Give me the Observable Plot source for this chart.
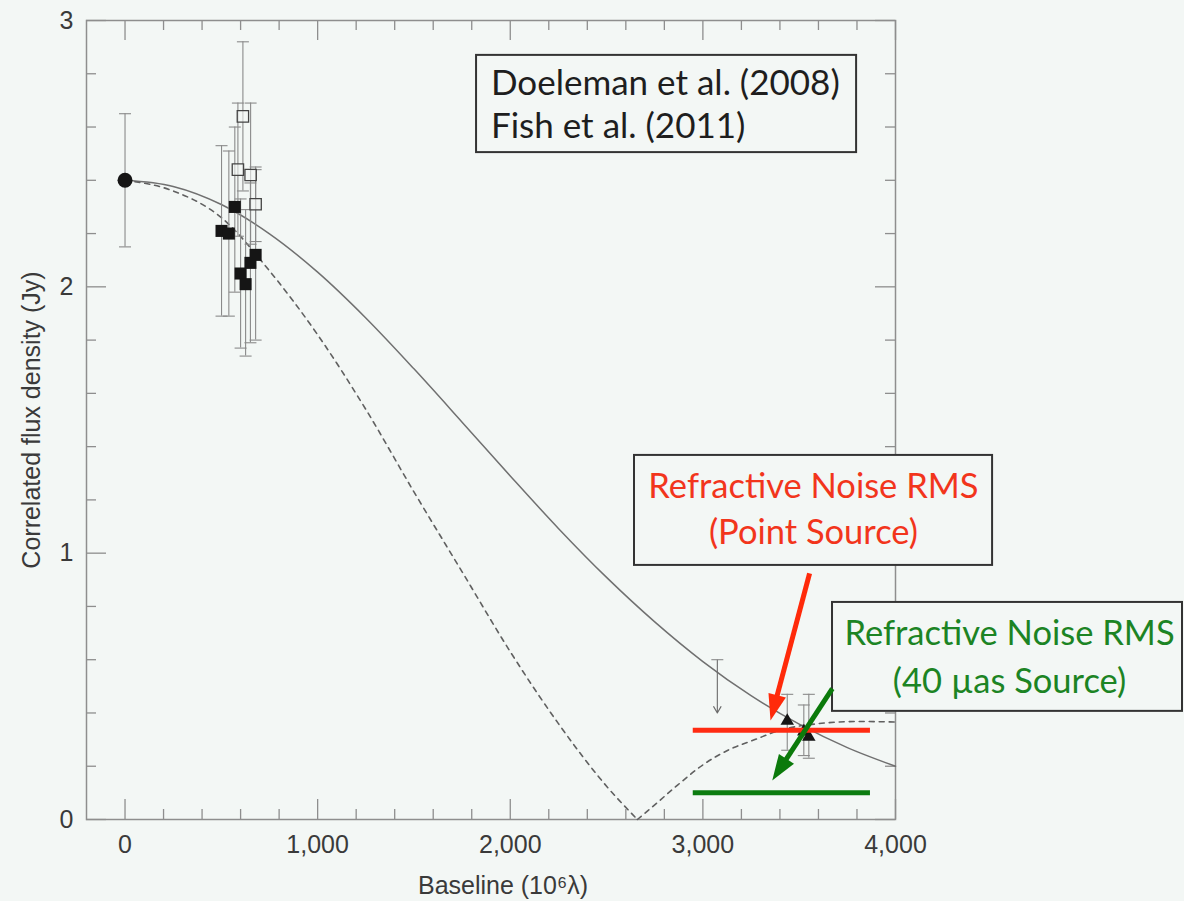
<!DOCTYPE html>
<html>
<head>
<meta charset="utf-8">
<script src="https://cdn.jsdelivr.net/npm/d3@7"></script>
<script src="https://cdn.jsdelivr.net/npm/@observablehq/plot@0.6"></script>
<style>
  html, body { margin: 0; padding: 0; background: #f3f7f5; }
  #chart svg { display: block; }
</style>
</head>
<body>
<div id="chart"></div>
<script>
// ---- Measurements: correlated flux density vs. baseline length ----
// Short-baseline total flux point
const circleBaseline = [0];
const circleFlux = [2.40];
const circleLow = [2.15];
const circleHigh = [2.65];

// Filled squares
const filledBaseline = [501, 539, 570, 600, 626, 651, 678];
const filledFlux = [2.21, 2.20, 2.30, 2.05, 2.01, 2.09, 2.12];
const filledLow = [1.89, 1.89, 1.98, 1.77, 1.74, 1.79, 1.80];
const filledHigh = [2.53, 2.51, 2.60, 2.33, 2.29, 2.39, 2.44];

// Open squares
const openBaseline = [612, 586, 652, 678];
const openFlux = [2.64, 2.44, 2.42, 2.31];
const openLow = [2.36, 2.19, 2.16, 2.17];
const openHigh = [2.92, 2.69, 2.69, 2.45];

// Long-baseline detections (triangles)
const triBaseline = [3438, 3524, 3550];
const triFlux = [0.37, 0.33, 0.31];
const triLow = [0.26, 0.24, 0.23];
const triHigh = [0.47, 0.43, 0.47];

// Upper limit
const limitBaseline = [3075];
const limitFrom = [0.60];
const limitTo = [0.40];

// ---- Model curves ----
const gaussBaseline = [0, 250, 500, 750, 1000, 1250, 1500, 1750, 2000, 2250, 2500, 2750, 3000, 3250, 3500, 3750, 4000];
const gaussFlux = [2.400, 2.377, 2.309, 2.199, 2.055, 1.883, 1.692, 1.492, 1.290, 1.093, 0.909, 0.742, 0.593, 0.465, 0.358, 0.270, 0.200];

const ringBaselineInner = [0, 250, 500, 750, 1000, 1250, 1500, 1750, 2000, 2250, 2500, 2660];
const ringFluxInner = [2.40, 2.36, 2.26, 2.06, 1.82, 1.54, 1.23, 0.93, 0.63, 0.36, 0.125, 0.00];
const ringBaselineOuter = [2660, 2750, 2870, 3000, 3130, 3270, 3400, 3600, 3800, 4000];
const ringFluxOuter = [0.00, 0.055, 0.13, 0.205, 0.26, 0.30, 0.335, 0.36, 0.368, 0.366];

// ---- Refractive noise levels ----
const noiseLabels = ["Point Source", "40 µas Source"];
const noiseFlux = [0.335, 0.10];
const noiseStart = [2950, 2950];
const noiseEnd = [3870, 3870];
const noiseColors = ["#ff2b12", "#0c7c10"];

// ---- Axis ticks ----
const xTickValues = [0, 1000, 2000, 3000, 4000];
const xTickLabels = ["0", "1,000", "2,000", "3,000", "4,000"];
const xMinorTicks = [200, 400, 600, 800, 1200, 1400, 1600, 1800, 2200, 2400, 2600, 2800, 3200, 3400, 3600, 3800];
const yTickValues = [0, 1, 2, 3];
const yTickLabels = ["0", "1", "2", "3"];
const yMinorTicks = [0.2, 0.4, 0.6, 0.8, 1.2, 1.4, 1.6, 1.8, 2.2, 2.4, 2.6, 2.8];

// ---- Layout ----
const W = 1184, H = 901;
const M = {top: 20, right: 289, bottom: 82, left: 86};
const innerW = W - M.left - M.right;
const innerH = H - M.top - M.bottom;
const xDomain = [-200, 4000];
const yDomain = [0, 3];
const bg = "#f3f7f5";
const axisFont = "'Liberation Sans', Arial, Helvetica, sans-serif";
const noteFont = "Lato, 'Open Sans', sans-serif";
const axisInk = "#3a3a3a";
const frameInk = "#8e8e8e";
const barInk = "#8a8a8a";

const rows = (xs, ys, lo, hi) => xs.map((b, i) => ({b, f: ys[i], lo: lo[i], hi: hi[i]}));
const circleRows = rows(circleBaseline, circleFlux, circleLow, circleHigh);
const filledRows = rows(filledBaseline, filledFlux, filledLow, filledHigh);
const openRows = rows(openBaseline, openFlux, openLow, openHigh);
const triRows = rows(triBaseline, triFlux, triLow, triHigh);
const allBars = [...circleRows, ...filledRows, ...openRows, ...triRows];

const gaussRows = gaussBaseline.map((b, i) => ({b, f: gaussFlux[i]}));
const ringRows = [
  ...ringBaselineInner.map((b, i) => ({b, f: ringFluxInner[i], branch: "inner"})),
  ...ringBaselineOuter.map((b, i) => ({b, f: ringFluxOuter[i], branch: "outer"}))
];
const limitRows = limitBaseline.map((b, i) => ({b, from: limitFrom[i], to: limitTo[i]}));
const noiseRows = noiseLabels.map((name, i) => ({name, f: noiseFlux[i], x1: noiseStart[i], x2: noiseEnd[i], color: noiseColors[i]}));

// Error-bar cap: a short horizontal stroke
const capSymbol = {draw(ctx) { ctx.moveTo(-6, 0); ctx.lineTo(6, 0); }};
// Filled arrow head, tip at the origin pointing up
const headSymbol = {draw(ctx) { ctx.moveTo(0, 0); ctx.lineTo(-9, 26); ctx.lineTo(9, 26); ctx.closePath(); }};

// ---- Annotation arrows (data coordinates) ----
const pointers = [
  {from: [3554, 0.924], to: [3351, 0.372], color: "#ff2a0a"},
  {from: [3672, 0.491], to: [3360, 0.146], color: "#0b7a0b"}
];
const kx = innerW / (xDomain[1] - xDomain[0]);
const ky = innerH / (yDomain[1] - yDomain[0]);
const pointerRows = pointers.map(({from, to, color}) => {
  const dxp = (to[0] - from[0]) * kx;
  const dyp = -(to[1] - from[1]) * ky;
  const len = Math.hypot(dxp, dyp);
  const back = 18 / len; // stop the shaft inside the head
  return {
    x1: from[0], y1: from[1],
    x2: to[0] - (to[0] - from[0]) * back,
    y2: to[1] - (to[1] - from[1]) * back,
    tx: to[0], ty: to[1],
    angle: Math.atan2(dxp, -dyp) * 180 / Math.PI,
    color
  };
});

// ---- Annotation boxes ----
const boxRows = [
  {x1: 1825, x2: 3798, y1: 2.504, y2: 2.869},
  {x1: 2645, x2: 4504, y1: 0.954, y2: 1.367},
  {x1: 3673, x2: 5490, y1: 0.406, y2: 0.815}
];
const legendLines = [
  {x: 1900, y: 2.762, text: "Doeleman et al. (2008)"},
  {x: 1900, y: 2.600, text: "Fish et al. (2011)"}
];
const noteLines = [
  {x: 3574, y: 1.247, text: "Refractive Noise RMS", color: "#f2351c"},
  {x: 3574, y: 1.077, text: "(Point Source)", color: "#f2351c"},
  {x: 4592, y: 0.695, text: "Refractive Noise RMS", color: "#1c8424"},
  {x: 4592, y: 0.515, text: "(40 µas Source)", color: "#1c8424"}
];

const chart = Plot.plot({
  width: W,
  height: H,
  marginTop: M.top,
  marginRight: M.right,
  marginBottom: M.bottom,
  marginLeft: M.left,
  x: {domain: xDomain, axis: null},
  y: {domain: yDomain, axis: null},
  style: {background: bg, fontFamily: axisFont},
  marks: [
    // inward ticks on all four sides
    Plot.tickX(xTickValues, {x: d => d, insetTop: innerH - 20, stroke: frameInk, strokeWidth: 1.3}),
    Plot.tickX(xMinorTicks, {x: d => d, insetTop: innerH - 10, stroke: frameInk, strokeWidth: 1.3}),
    Plot.tickX(xTickValues, {x: d => d, insetBottom: innerH - 20, stroke: frameInk, strokeWidth: 1.3}),
    Plot.tickX(xMinorTicks, {x: d => d, insetBottom: innerH - 10, stroke: frameInk, strokeWidth: 1.3}),
    Plot.tickY(yTickValues, {y: d => d, insetRight: innerW - 20, stroke: frameInk, strokeWidth: 1.3}),
    Plot.tickY(yMinorTicks, {y: d => d, insetRight: innerW - 10, stroke: frameInk, strokeWidth: 1.3}),
    Plot.tickY(yTickValues, {y: d => d, insetLeft: innerW - 20, stroke: frameInk, strokeWidth: 1.3}),
    Plot.tickY(yMinorTicks, {y: d => d, insetLeft: innerW - 10, stroke: frameInk, strokeWidth: 1.3}),
    Plot.frame({stroke: frameInk, strokeWidth: 1.5}),

    // tick labels and axis titles
    Plot.text(xTickValues, {x: d => d, text: (d, i) => xTickLabels[i], frameAnchor: "bottom", lineAnchor: "middle", dy: 25, fontSize: 25, fill: axisInk}),
    Plot.text(yTickValues, {y: d => d, text: (d, i) => yTickLabels[i], frameAnchor: "left", lineAnchor: "middle", dx: -13, textAnchor: "end", fontSize: 25, fill: axisInk}),
    Plot.text(["Baseline (10⁶λ)"], {text: d => d, frameAnchor: "bottom", lineAnchor: "middle", textAnchor: "middle", dy: 66, dx: 12, fontSize: 25, fill: axisInk}),
    Plot.text(["Correlated flux density (Jy)"], {text: d => d, frameAnchor: "left", lineAnchor: "middle", textAnchor: "middle", dx: -55, rotate: -90, fontSize: 25, fill: axisInk}),

    // model curves
    Plot.line(gaussRows, {x: "b", y: "f", curve: "monotone-x", stroke: "#707070", strokeWidth: 1.5}),
    Plot.line(ringRows, {x: "b", y: "f", z: "branch", curve: "monotone-x", stroke: "#606060", strokeWidth: 1.6, strokeDasharray: "5,5"}),

    // error bars
    Plot.ruleX(allBars, {x: "b", y1: "lo", y2: "hi", stroke: barInk, strokeWidth: 1.1}),
    Plot.dot(allBars, {x: "b", y: "lo", symbol: capSymbol, fill: "none", stroke: barInk, strokeWidth: 1.1}),
    Plot.dot(allBars, {x: "b", y: "hi", symbol: capSymbol, fill: "none", stroke: barInk, strokeWidth: 1.1}),

    // upper limit
    Plot.arrow(limitRows, {x1: "b", x2: "b", y1: "from", y2: "to", stroke: "#6a6a6a", strokeWidth: 1.1, headLength: 10}),
    Plot.dot(limitRows, {x: "b", y: "from", symbol: capSymbol, fill: "none", stroke: barInk, strokeWidth: 1.1}),

    // data points
    Plot.dot(circleRows, {x: "b", y: "f", r: 7.5, fill: "#151515"}),
    Plot.dot(openRows, {x: "b", y: "f", symbol: "square", r: 6.4, fill: bg, fillOpacity: 0.6, stroke: "#444", strokeWidth: 1.3}),
    Plot.dot(filledRows, {x: "b", y: "f", symbol: "square", r: 6.8, fill: "#151515"}),
    Plot.dot(triRows, {x: "b", y: "f", symbol: "triangle", r: 5, fill: "#151515"}),

    // refractive noise levels
    Plot.ruleY(noiseRows, {y: "f", x1: "x1", x2: "x2", stroke: "color", strokeWidth: 5}),

    // annotation boxes and text
    Plot.rect(boxRows, {x1: "x1", x2: "x2", y1: "y1", y2: "y2", fill: bg, stroke: "#333", strokeWidth: 2}),
    Plot.text(legendLines, {x: "x", y: "y", text: "text", textAnchor: "start", fontSize: 35, fontFamily: noteFont, fill: "#1e1e1e"}),
    Plot.text(noteLines, {x: "x", y: "y", text: "text", fontSize: 34.5, fontFamily: noteFont, fill: "color"}),

    // pointers
    Plot.link(pointerRows, {x1: "x1", y1: "y1", x2: "x2", y2: "y2", stroke: "color", strokeWidth: 5}),
    Plot.dot(pointerRows, {x: "tx", y: "ty", symbol: headSymbol, rotate: "angle", fill: "color", stroke: "none"})
  ]
});

document.getElementById("chart").appendChild(chart);
</script>
</body>
</html>
